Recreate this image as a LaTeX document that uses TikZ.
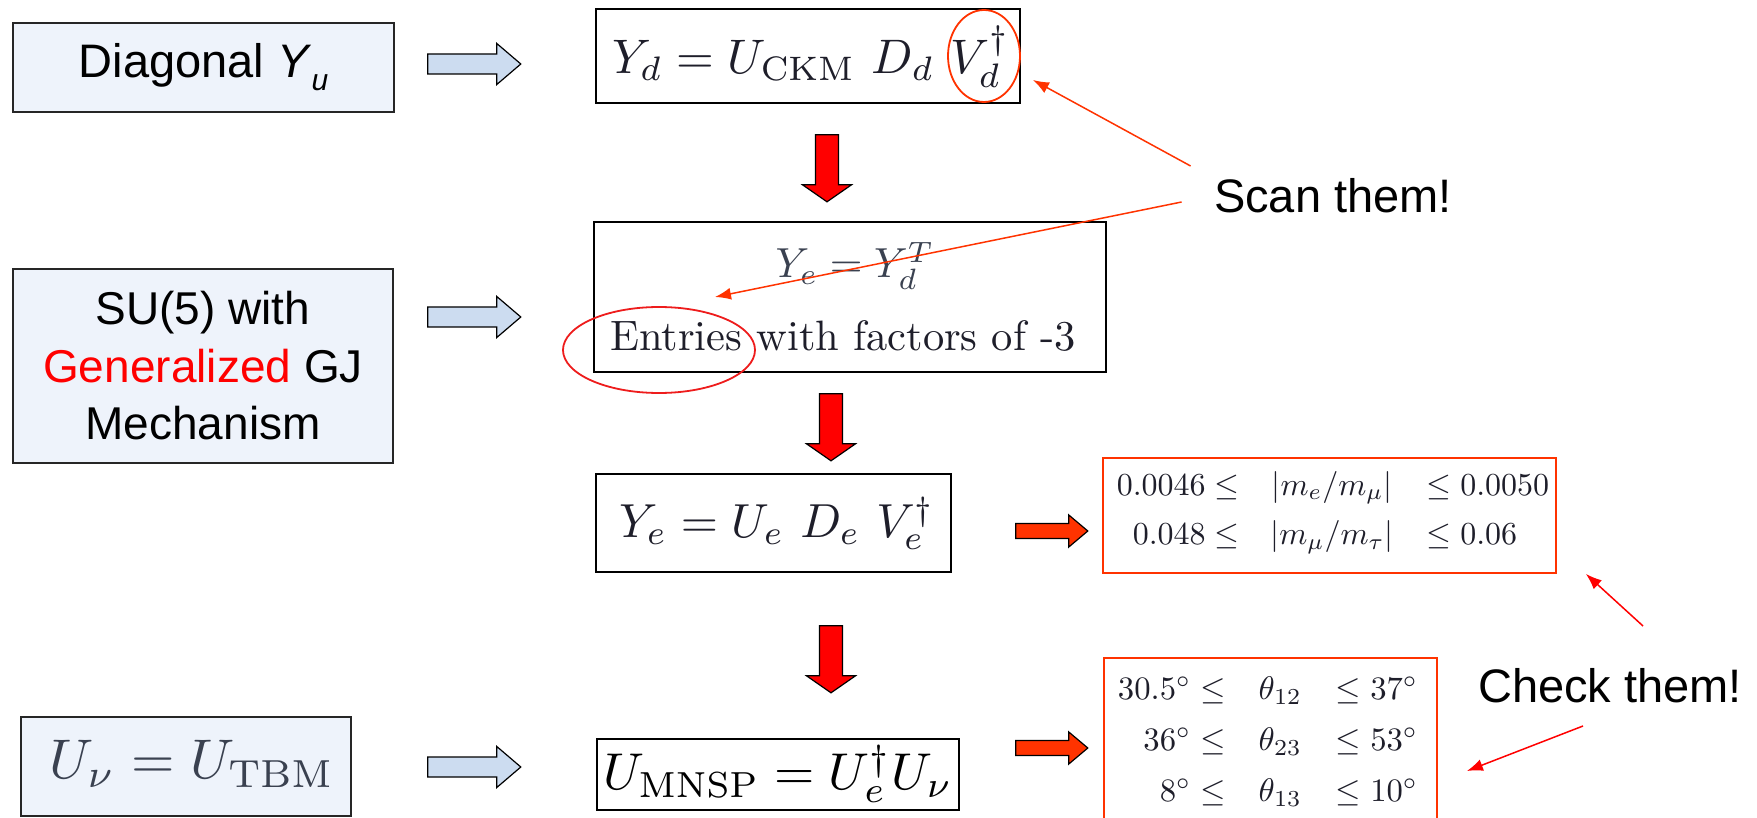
\RequirePackage{fix-cm}
\documentclass[tikz,border=0pt]{standalone}
\usepackage{amsmath}
\usepackage{graphicx}
\usepackage[no-math]{fontspec}
\newfontfamily\arialf{Liberation Sans}
\usetikzlibrary{calc,arrows.meta,shapes.geometric}
\definecolor{leftfill}{HTML}{EEF3FB}
\definecolor{bluefill}{HTML}{CCDCF0}
\definecolor{orangered}{HTML}{FF3300}
\definecolor{ellred}{HTML}{EE1C1C}
\definecolor{mathink}{HTML}{1E1E2A}
\definecolor{grayink}{HTML}{3A4150}
% right-pointing block arrow: style, start (tail centre), length, shaft half, head half, head length
\newcommand\rblock[6]{\draw[#1] (#2) ++(0,-#4) -- ++({#3-#6},0) -- ++(0,{#4-#5}) -- ++(#6,#5) -- ++(-#6,#5) -- ++(0,{#4-#5}) -- ++({#6-#3},0) -- cycle;}
% down-pointing block arrow: style, start (tail centre), length, shaft half, head half, head length
\newcommand\dblock[6]{\draw[#1] (#2) ++(-#4,0) -- ++(0,{#3-#6}) -- ++({#4-#5},0) -- ++(#5,#6) -- ++(#5,-#6) -- ++({#4-#5},0) -- ++(0,{#6-#3}) -- cycle;}
\begin{document}
\begin{tikzpicture}[x=1pt,y=-1pt,line join=miter,
 leftbox/.style={draw=black!85,line width=1.6pt,fill=leftfill,inner sep=0pt},
 midbox/.style={draw=black,line width=1.6pt,inner sep=0pt},
 redbox/.style={draw=orangered,line width=1.8pt,inner sep=0pt},
 bluearrow/.style={draw=black,line width=1.2pt,fill=bluefill},
 reddown/.style={draw=black,line width=1.2pt,fill=red},
 redright/.style={draw=black,line width=1.2pt,fill=orangered},
 scanline/.style={draw=orangered,line width=1.5pt,-{Latex[length=16pt,width=12pt]}},
 checkline/.style={draw=red,line width=1.5pt,-{Latex[length=16pt,width=12pt]}},
 ring/.style={ellipse,line width=1.8pt,inner sep=0pt},
 sanstext/.style={font=\arialf\fontsize{47}{57.5}\selectfont}]
\useasboundingbox (0,0) rectangle (1757,818);
\fill[white] (0,0) rectangle (1757,818);

% left column
\node[leftbox,minimum width=381,minimum height=89,sanstext] (diag) at (203.5,67.5)
  {Diagonal \textit{Y}\raisebox{-0.28em}{\fontsize{30}{30}\selectfont\textit{u}}};
\node[leftbox,minimum width=380,minimum height=194,align=center,font=\arialf\fontsize{46}{57.5}\selectfont] (su5) at (203,366)
  {SU(5) with\\\textcolor{red}{Generalized} GJ\\Mechanism};
\node[leftbox,minimum width=330,minimum height=99] (unu) at (186,766.5) {};
\node[text=grayink,inner sep=0pt] (unuT) at (192,764)
  {\scalebox{5.59}{$U_\nu = U_{\mathrm{TBM}}$}};

% middle column
\node[midbox,minimum width=424,minimum height=94] (yd) at (808,56) {};
\node[text=mathink,inner sep=0pt] (ydT) at (811,57)
  {\scalebox{4.85}{$Y_d = U_{\mathrm{CKM}}\ D_d\ V_d^\dagger$}};
\node[midbox,minimum width=512,minimum height=150] (ye) at (850,297) {};
\node[text=grayink] (yeA) at (855,266) {\scalebox{4.2}{$Y_e = Y_d^T$}};
\node[text=mathink] (yeB) at (843,336) {\scalebox{4.25}{Entries with factors of -3}};
\node[midbox,minimum width=355,minimum height=98] (ye2) at (773.5,523) {};
\node[text=mathink,inner sep=0pt] (ye2T) at (777,523)
  {\scalebox{4.78}{$Y_e = U_e\ D_e\ V_e^\dagger$}};
\node[midbox,minimum width=362,minimum height=71] (umnsp) at (778,774.5) {};
\node[inner sep=0pt] (umnspT) at (778,774)
  {\scalebox{5.18}{$U_{\mathrm{MNSP}} = U_e^\dagger U_\nu$}};

% right column
\node[redbox,minimum width=453,minimum height=115] (mass) at (1329.5,515.5) {};
\node[text=mathink] (masstxt) at (1333,510)
  {\scalebox{3.2}{\renewcommand\arraystretch{1.3}$\begin{array}{r@{\hspace{9.7pt}}c@{\hspace{10.3pt}}l}
   0.0046 \leq & |m_e/m_\mu| & \leq 0.0050\\
   0.048 \leq & |m_\mu/m_\tau| & \leq 0.06
   \end{array}$}};
\node[redbox,minimum width=333,minimum height=164] (angles) at (1270.5,740) {};
\node[text=mathink] (angtxt) at (1268,740)
  {\scalebox{3.27}{\renewcommand\arraystretch{1.3}$\begin{array}{r@{\hspace{10.1pt}}c@{\hspace{10.4pt}}l}
   30.5^\circ \leq & \theta_{12} & \leq 37^\circ\\
   36^\circ \leq & \theta_{23} & \leq 53^\circ\\
   8^\circ \leq & \theta_{13} & \leq 10^\circ
   \end{array}$}};

% rings
\node[ring,draw=orangered,minimum width=72,minimum height=92] (ringV) at (984,56) {};
\node[ring,draw=ellred,minimum width=192,minimum height=86] (ringE) at (659,350) {};

% labels
\node[sanstext] (scan) at (1333,196) {Scan them!};
\node[sanstext] (check) at (1610,686) {Check them!};

% block arrows
\coordinate (ba1) at ($(diag.east)+(33,-3.5)$);
\coordinate (ba2) at ($(su5.east)+(34,-49)$);
\coordinate (ba3) at ($(unu.east)+(76,0.5)$);
\rblock{bluearrow}{ba1}{93}{10}{20.5}{24}
\rblock{bluearrow}{ba2}{93}{10}{20.5}{24}
\rblock{bluearrow}{ba3}{93}{10}{20.5}{24}

\coordinate (da1) at ($(yd.south)+(19,31)$);
\coordinate (da2) at ($(ye.south)+(-19,21)$);
\coordinate (da3) at ($(ye2.south)+(57.5,53)$);
\dblock{reddown}{da1}{67}{11.5}{24.5}{17}
\dblock{reddown}{da2}{67}{11.5}{24.5}{17}
\dblock{reddown}{da3}{67}{11.5}{24.5}{17}

\coordinate (ra1) at ($(ye2.east)+(64,8)$);
\coordinate (ra2) at ($(umnsp.east)+(56,-26.5)$);
\rblock{redright}{ra1}{72}{7.5}{16}{19}
\rblock{redright}{ra2}{72}{7.5}{16}{19}

% callout arrows
\coordinate (sA) at ($(scan.west)+(-20,-30)$);
\coordinate (sB) at ($(scan.west)+(-29,6)$);
\coordinate (tA) at ($(ringV.center)+(49,24)$);
\coordinate (tB) at ($(ringE.center)+(56,-53)$);
\draw[scanline] (sA) -- (tA);
\draw[scanline] (sB) -- (tB);
\coordinate (cA) at (1643,626);
\coordinate (cB) at (1583,726);
\coordinate (tC) at ($(mass.south east)+(29,0)$);
\coordinate (tD) at ($(angles.east)+(29,31)$);
\draw[checkline] (cA) -- (tC);
\draw[checkline] (cB) -- (tD);
\end{tikzpicture}
\end{document}
